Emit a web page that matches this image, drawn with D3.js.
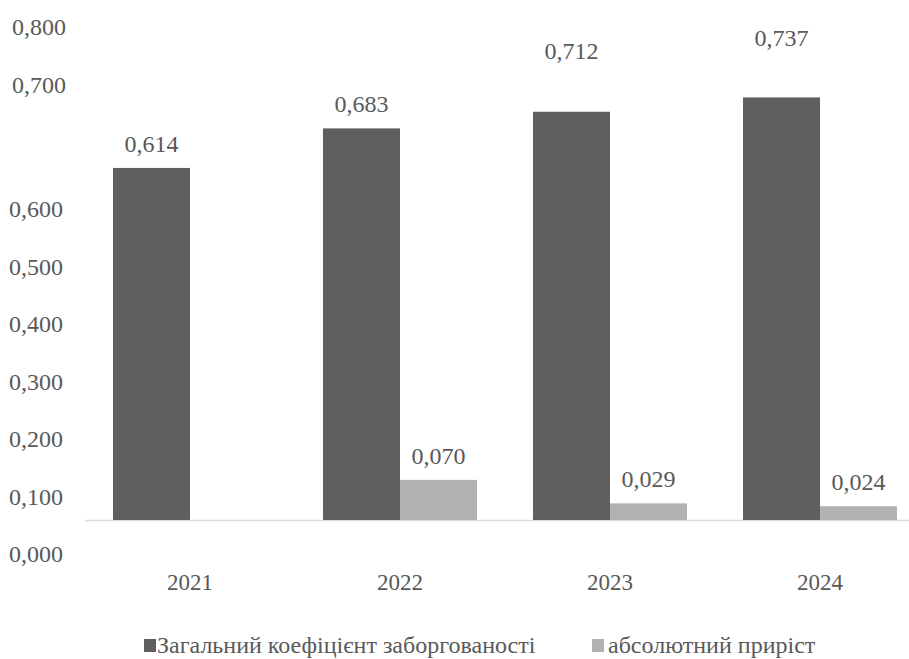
<!DOCTYPE html>
<html>
<head>
<meta charset="utf-8">
<script src="https://cdn.jsdelivr.net/npm/d3@7"></script>
<style>
  html, body { margin: 0; padding: 0; background: #fff; }
  svg { display: block; }
</style>
</head>
<body>
<svg id="chart" width="909" height="659"></svg>
<script>
// ---- data ----
const years = ["2021", "2022", "2023", "2024"];
const seriesNames = ["Загальний коефіцієнт заборгованості", "абсолютний приріст"];
const debtRatio = [0.614, 0.683, 0.712, 0.737];
const absGrowth = [null, 0.070, 0.029, 0.024];
const tickValues = [0, 0.1, 0.2, 0.3, 0.4, 0.5, 0.6, 0.7, 0.8];

// ---- layout (not data) ----
const colors = ["#5f5f5f", "#b2b2b2"];
const darkLabelLift = [0, 0, 37, 35];   // extra raise of value labels as in the reference
const FONT = "Liberation Serif";

const svg = d3.select("#chart");
const fmt = v => d3.format(".3f")(v).replace(".", ",");

const x0 = d3.scaleBand().domain(years).range([85, 925]).padding(0);
const x1 = d3.scaleBand().domain(seriesNames).range([28, 182]).padding(0);
const y = d3.scaleLinear().domain([0, 0.8]).range([520, 61.3]);
// the reference places its tick labels on an uneven vertical layout
const yLabel = d3.scaleLinear().domain([0, 0.6, 0.7, 0.8]).range([554, 209, 85, 27]);

// axis line
svg.append("line")
  .attr("x1", 85).attr("x2", 909)
  .attr("y1", y(0) + 0.5).attr("y2", y(0) + 0.5)
  .attr("stroke", "#d9d9d9").attr("stroke-width", 1.5);

function txt(sel) {
  return sel.attr("font-family", FONT).attr("fill", "#595959");
}

// y tick labels
txt(svg.append("g").selectAll("text").data(tickValues).join("text"))
  .attr("x", d => d >= 0.7 ? 66 : 63)
  .attr("y", d => yLabel(d) + 8)
  .attr("text-anchor", "end")
  .attr("font-size", 24)
  .text(d => fmt(d));

const rows = years.map((yr, i) => ({ yr, i, vals: [debtRatio[i], absGrowth[i]] }));

const groups = svg.append("g").selectAll("g").data(rows).join("g")
  .attr("transform", d => `translate(${x0(d.yr)},0)`);

groups.each(function(row) {
  const g = d3.select(this);
  row.vals.forEach((v, s) => {
    if (v == null) return;
    g.append("rect")
      .attr("x", x1(seriesNames[s]))
      .attr("y", y(v))
      .attr("width", x1.bandwidth())
      .attr("height", y(0) - y(v))
      .attr("fill", colors[s]);
    const lift = s === 0 ? darkLabelLift[row.i] : 0;
    txt(g.append("text"))
      .attr("x", x1(seriesNames[s]) + x1.bandwidth() / 2)
      .attr("y", y(v) - 24 - lift + 8)
      .attr("text-anchor", "middle")
      .attr("font-size", 24)
      .text(fmt(v));
  });
});

// x labels
txt(svg.append("g").selectAll("text").data(years).join("text"))
  .attr("x", d => x0(d) + x0.bandwidth() / 2)
  .attr("y", 590)
  .attr("text-anchor", "middle")
  .attr("font-size", 23)
  .text(d => d);

// legend
const legendX = [144, 592];
const lg = svg.append("g").selectAll("g").data(seriesNames).join("g")
  .attr("transform", (d, i) => `translate(${legendX[i]},639)`);
lg.append("rect").attr("width", 12).attr("height", 13).attr("fill", (d, i) => colors[i]);
txt(lg.append("text"))
  .attr("x", (d, i) => i === 0 ? 13 : 16)
  .attr("y", 14)
  .attr("font-size", 24)
  .text(d => d);
</script>
</body>
</html>
